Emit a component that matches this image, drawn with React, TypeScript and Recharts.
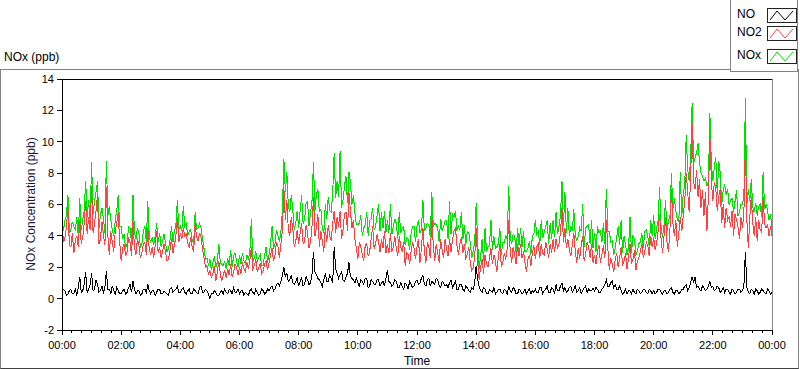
import { LineChart, Line, XAxis, YAxis, ReferenceLine } from "recharts";

// one reading every 3 minutes, 00:00 -> 24:00 (481 points), one row per hour
const STEP_MIN = 3;

const NOX = [
  5.4, 4.3, 5.0, 5.3, 6.6, 4.2, 4.4, 4.9, 4.6, 4.4, 5.2, 4.0, 6.4, 4.4, 5.0, 5.6, 7.5, 5.2, 6.3, 5.0,
  8.7, 5.4, 6.2, 6.8, 7.5, 4.5, 5.3, 5.8, 5.1, 4.2, 8.8, 5.3, 5.9, 5.0, 4.4, 4.0, 5.0, 5.6, 6.6, 4.6,
  4.6, 3.8, 4.1, 3.2, 3.5, 4.6, 4.5, 3.5, 6.6, 4.2, 3.8, 4.5, 4.2, 3.3, 3.5, 4.3, 4.6, 3.6, 6.2, 3.9,
  3.6, 3.9, 3.4, 4.0, 4.8, 3.6, 4.2, 3.3, 3.7, 4.1, 3.5, 3.0, 3.2, 3.7, 4.6, 3.6, 4.3, 4.7, 6.3, 4.4,
  4.6, 4.3, 5.9, 4.6, 4.8, 4.0, 4.3, 4.4, 3.7, 3.5, 5.5, 4.4, 4.5, 4.8, 4.5, 3.8, 3.2, 2.5, 2.6, 2.1,
  2.5, 1.8, 2.3, 2.7, 2.0, 2.3, 3.5, 2.3, 2.2, 2.1, 2.4, 1.9, 2.6, 2.1, 3.1, 2.0, 2.7, 2.9, 2.4, 2.0,
  2.8, 2.2, 2.9, 2.4, 2.2, 2.8, 2.5, 3.0, 5.1, 2.4, 2.6, 3.0, 2.4, 2.6, 2.8, 2.1, 2.1, 2.8, 3.3, 2.3,
  2.8, 3.5, 4.6, 3.2, 3.5, 4.4, 4.0, 3.6, 4.3, 5.6, 8.9, 6.8, 8.1, 5.9, 5.5, 6.6, 5.7, 4.4, 4.8, 5.6,
  4.5, 5.6, 6.6, 4.8, 5.0, 6.1, 6.2, 4.6, 5.5, 6.2, 8.7, 5.6, 6.6, 7.0, 5.5, 5.7, 4.4, 4.2, 6.0, 5.1,
  6.5, 5.6, 5.5, 6.7, 9.3, 6.4, 7.5, 6.5, 9.4, 5.8, 6.3, 7.2, 7.8, 6.1, 8.1, 7.4, 6.0, 6.6, 5.5, 4.7,
  4.7, 4.8, 5.3, 4.0, 4.5, 4.7, 5.5, 4.0, 5.0, 5.1, 5.8, 4.4, 4.6, 5.3, 6.0, 4.3, 5.5, 4.5, 5.6, 4.2,
  5.0, 4.2, 6.0, 4.1, 4.6, 5.1, 4.8, 3.8, 5.5, 4.2, 4.5, 4.6, 3.4, 3.9, 3.8, 3.1, 4.2, 4.6, 4.6, 3.6,
  4.6, 5.0, 4.2, 4.4, 6.3, 4.3, 4.5, 4.8, 4.7, 3.9, 6.8, 4.6, 4.8, 4.7, 4.5, 3.6, 5.1, 4.3, 4.6, 5.0,
  5.0, 3.8, 6.2, 4.1, 5.4, 5.2, 5.6, 4.4, 4.6, 4.4, 5.5, 3.8, 4.7, 3.4, 4.3, 4.2, 3.6, 2.6, 3.0, 3.6,
  6.1, 3.6, 1.9, 2.7, 3.8, 2.4, 4.5, 3.0, 3.3, 3.4, 5.0, 3.1, 4.0, 3.2, 3.3, 3.5, 4.5, 2.8, 3.6, 3.6,
  4.0, 3.8, 7.2, 3.9, 3.5, 4.1, 4.0, 2.9, 4.5, 3.4, 4.5, 3.3, 4.3, 3.0, 3.0, 3.2, 3.7, 2.8, 4.0, 4.1,
  5.0, 4.1, 4.3, 3.4, 5.0, 3.9, 4.2, 4.6, 5.0, 3.5, 4.8, 3.8, 5.0, 3.9, 5.5, 4.1, 4.6, 5.3, 7.5, 4.6,
  6.8, 4.2, 5.8, 4.0, 4.6, 4.3, 5.7, 4.0, 3.7, 4.0, 4.5, 4.3, 6.0, 3.3, 4.5, 4.6, 4.7, 3.5, 5.0, 3.2,
  4.2, 3.0, 4.6, 4.2, 4.3, 3.6, 4.8, 3.5, 7.0, 4.3, 4.3, 3.6, 3.7, 2.8, 3.2, 3.9, 4.6, 3.4, 5.0, 2.9,
  4.0, 3.4, 2.8, 3.2, 5.2, 2.9, 4.0, 3.8, 2.8, 3.0, 3.5, 3.6, 4.2, 3.2, 4.3, 4.4, 4.0, 3.3, 5.0, 4.0,
  5.3, 3.8, 4.5, 5.0, 7.1, 4.6, 3.9, 4.7, 6.3, 4.3, 5.0, 5.2, 8.0, 5.7, 6.4, 5.6, 5.0, 4.9, 8.1, 5.2,
  6.7, 7.2, 10.4, 8.2, 7.5, 9.0, 12.5, 8.6, 9.0, 9.3, 9.9, 8.7, 8.0, 7.8, 7.5, 7.7, 7.2, 7.4, 11.8, 8.6,
  7.5, 8.4, 9.0, 6.6, 8.8, 8.0, 6.0, 6.9, 7.3, 6.6, 7.0, 6.0, 6.3, 6.4, 5.5, 6.2, 6.9, 5.3, 5.5, 6.0,
  6.0, 6.5, 12.8, 6.0, 7.0, 6.2, 7.6, 5.8, 5.5, 6.1, 5.3, 5.9, 6.0, 5.2, 8.1, 5.7, 6.0, 5.6, 5.0, 5.4, 4.4,
];

const NO2 = [
  4.9, 3.6, 3.9, 4.6, 5.8, 3.4, 3.3, 4.2, 2.9, 3.7, 4.0, 3.3, 5.0, 3.5, 3.9, 4.8, 6.2, 4.1, 5.2, 4.4,
  7.2, 4.2, 4.8, 5.6, 6.6, 3.5, 3.8, 4.9, 4.1, 3.4, 7.1, 4.0, 2.8, 4.3, 3.6, 3.0, 4.3, 4.8, 5.5, 3.6,
  2.4, 3.2, 3.5, 2.7, 3.0, 3.9, 3.6, 2.7, 4.9, 3.3, 2.8, 3.8, 3.4, 2.6, 2.9, 3.5, 3.6, 2.8, 4.5, 3.1,
  2.8, 3.3, 2.6, 3.4, 4.3, 2.9, 3.3, 2.6, 3.0, 3.5, 3.0, 2.4, 2.5, 3.1, 3.8, 2.9, 3.4, 4.0, 5.2, 3.6,
  4.2, 3.8, 4.5, 4.0, 4.1, 3.5, 3.3, 3.9, 3.3, 3.0, 4.8, 3.9, 3.7, 4.2, 3.9, 3.2, 2.6, 2.0, 2.1, 1.5,
  1.8, 1.3, 1.6, 2.1, 1.1, 1.7, 2.4, 1.6, 1.1, 1.5, 1.8, 1.3, 1.9, 1.5, 2.2, 1.4, 1.7, 2.2, 2.0, 1.5,
  2.0, 1.6, 2.3, 1.9, 1.7, 2.3, 1.9, 2.4, 3.3, 1.9, 2.1, 2.5, 1.7, 2.0, 2.2, 1.6, 1.8, 2.2, 2.4, 1.8,
  2.3, 2.8, 3.2, 2.4, 2.8, 3.6, 3.3, 2.6, 3.5, 4.3, 7.1, 5.0, 6.3, 4.4, 4.0, 5.2, 4.5, 3.3, 3.6, 4.4,
  3.5, 4.2, 4.8, 3.5, 3.6, 4.7, 4.2, 3.2, 3.6, 4.6, 6.5, 4.0, 4.5, 5.4, 3.3, 4.3, 3.7, 3.0, 4.5, 3.6,
  4.7, 4.0, 3.7, 4.8, 5.6, 4.2, 5.2, 4.6, 5.6, 3.8, 4.4, 5.4, 5.5, 4.3, 6.8, 5.6, 4.5, 5.0, 3.8, 3.2,
  2.5, 3.6, 3.3, 2.8, 2.4, 3.4, 3.5, 2.7, 3.0, 3.8, 4.6, 3.2, 3.5, 4.1, 3.6, 3.0, 3.8, 3.2, 4.3, 2.9,
  3.5, 2.9, 4.2, 3.0, 3.3, 4.0, 3.2, 2.7, 4.0, 3.3, 3.0, 3.6, 2.1, 2.9, 2.8, 2.2, 3.0, 3.6, 3.2, 2.5,
  3.3, 3.8, 2.3, 3.2, 4.5, 3.0, 2.3, 3.6, 3.3, 2.6, 5.3, 3.4, 2.4, 3.5, 2.9, 2.3, 3.8, 3.1, 2.6, 3.8,
  3.2, 2.7, 3.8, 3.0, 3.7, 4.3, 4.5, 3.4, 2.8, 3.5, 3.9, 2.9, 3.5, 2.6, 2.8, 3.3, 2.3, 1.8, 2.0, 2.6,
  4.5, 2.4, 1.2, 2.0, 2.5, 1.6, 2.8, 2.2, 2.0, 2.6, 3.2, 2.2, 2.8, 2.4, 1.7, 2.7, 3.5, 2.0, 2.3, 2.9,
  2.5, 3.2, 5.0, 3.1, 2.3, 3.3, 2.8, 2.2, 3.5, 2.7, 3.5, 2.6, 3.0, 2.3, 1.7, 2.5, 2.8, 2.1, 2.9, 3.4,
  2.5, 3.3, 3.5, 2.6, 3.5, 2.9, 2.8, 3.6, 3.2, 2.6, 3.5, 2.9, 3.8, 3.0, 3.8, 3.2, 3.5, 4.2, 5.8, 3.6,
  4.5, 3.2, 3.8, 3.1, 2.7, 3.4, 4.2, 3.0, 2.3, 3.2, 2.5, 3.4, 4.0, 2.4, 2.8, 3.6, 3.3, 2.6, 3.5, 2.3,
  2.8, 2.2, 3.0, 3.4, 2.3, 2.8, 3.4, 2.6, 5.0, 3.2, 1.8, 2.6, 2.2, 1.7, 2.5, 2.9, 2.0, 2.6, 3.3, 2.1,
  2.4, 2.9, 1.9, 2.6, 3.5, 2.2, 2.5, 3.1, 1.8, 2.4, 2.6, 3.0, 3.5, 2.6, 3.0, 3.6, 3.4, 2.7, 4.0, 3.3,
  3.9, 3.1, 3.5, 4.3, 5.4, 3.8, 2.9, 4.0, 5.2, 3.6, 3.0, 4.4, 7.0, 4.8, 4.0, 5.0, 3.3, 4.2, 5.2, 4.3,
  5.3, 6.2, 8.0, 6.8, 5.5, 7.8, 11.2, 7.4, 7.0, 8.2, 6.5, 7.6, 5.8, 6.9, 5.3, 6.8, 4.3, 6.5, 10.4, 7.5,
  6.2, 7.4, 7.0, 5.6, 6.5, 7.0, 4.8, 6.0, 4.5, 5.8, 5.0, 5.2, 4.6, 5.6, 4.0, 5.4, 5.0, 4.6, 3.8, 5.2,
  4.5, 5.5, 9.9, 5.0, 3.2, 5.2, 6.5, 4.8, 4.0, 5.2, 3.7, 5.0, 4.4, 4.2, 6.5, 4.8, 4.5, 4.7, 4.0, 4.6, 4.0,
];

const NO = [
  0.4, 0.6, 0.5, 0.2, 0.3, 0.5, 0.6, 0.3, 0.3, 0.6, 0.2, 0.7, 1.4, 0.4, 0.5, 0.9, 1.7, 0.4, 0.6, 0.9,
  1.6, 0.5, 0.6, 1.2, 0.9, 0.4, 0.5, 0.8, 0.4, 0.7, 1.75, 0.6, 0.6, 0.3, 0.8, 0.5, 0.3, 0.7, 0.5, 0.3,
  0.3, 0.5, 0.6, 0.3, 0.4, 0.7, 0.9, 0.4, 1.1, 0.6, 0.3, 0.5, 0.5, 0.2, 0.3, 0.6, 0.6, 0.4, 0.9, 0.5,
  0.3, 0.5, 0.5, 0.2, 0.4, 0.6, 0.6, 0.3, 0.3, 0.5, 0.4, 0.3, 0.2, 0.6, 0.7, 0.4, 0.5, 0.6, 0.8, 0.4,
  0.4, 0.6, 0.7, 0.4, 0.3, 0.5, 0.6, 0.3, 0.3, 0.6, 0.5, 0.4, 0.3, 0.7, 0.8, 0.4, 0.4, 0.6, 0.5, 0.3,
  0.0, 0.3, 0.3, 0.5, 0.4, 0.2, 0.2, 0.4, 0.5, 0.3, 0.6, 0.4, 0.3, 0.6, 0.5, 0.3, 0.7, 0.4, 0.4, 0.6,
  0.3, 0.5, 0.5, 0.2, 0.4, 0.3, 0.2, 0.5, 0.6, 0.4, 0.3, 0.6, 0.4, 0.2, 0.3, 0.6, 0.5, 0.3, 0.4, 0.6,
  0.5, 0.7, 0.8, 0.5, 0.6, 0.9, 1.0, 0.8, 1.1, 1.5, 2.0, 1.4, 1.6, 1.1, 1.2, 1.5, 1.0, 0.9, 1.1, 1.3,
  0.8, 1.1, 1.3, 0.8, 0.9, 1.4, 1.2, 0.9, 1.0, 1.5, 3.0, 1.7, 1.5, 1.3, 1.2, 1.0, 0.8, 1.2, 1.6, 1.1,
  1.1, 1.5, 1.3, 1.0, 3.3, 1.9, 1.6, 1.3, 1.5, 1.7, 1.2, 1.1, 1.4, 1.6, 2.3, 1.4, 1.3, 1.2, 1.0, 1.3,
  1.0, 0.8, 1.2, 1.1, 0.9, 1.3, 1.3, 0.7, 0.8, 1.2, 1.1, 0.9, 0.9, 1.2, 1.2, 0.8, 1.0, 1.1, 0.8, 1.3,
  1.8, 1.1, 1.0, 0.8, 0.9, 1.2, 1.1, 0.7, 0.7, 1.0, 0.8, 0.6, 1.0, 0.9, 0.6, 1.1, 0.9, 0.7, 0.8, 1.1,
  1.2, 0.9, 1.0, 1.3, 1.5, 0.9, 0.8, 1.2, 1.3, 0.8, 1.1, 1.0, 0.9, 1.3, 1.2, 0.8, 0.7, 1.1, 1.0, 0.8,
  0.9, 0.7, 1.0, 1.2, 0.7, 0.9, 1.1, 0.6, 0.6, 0.9, 0.9, 0.6, 0.5, 0.8, 0.7, 0.5, 0.4, 0.7, 0.6, 1.0,
  2.1, 1.2, 0.8, 0.5, 0.4, 0.7, 0.6, 0.3, 0.3, 0.6, 0.5, 0.4, 0.7, 0.3, 0.4, 0.6, 0.6, 0.4, 0.3, 0.6,
  0.5, 0.3, 0.8, 0.5, 0.4, 0.7, 0.6, 0.3, 0.3, 0.6, 0.5, 0.3, 0.4, 0.6, 0.3, 0.5, 0.6, 0.3, 0.5, 0.4,
  0.6, 0.4, 0.4, 0.7, 0.7, 0.3, 0.5, 0.6, 0.8, 0.4, 0.4, 0.7, 0.6, 0.3, 0.9, 0.5, 0.5, 0.8, 1.0, 0.5,
  0.7, 0.4, 0.5, 0.7, 0.8, 0.4, 0.6, 0.8, 0.4, 0.5, 0.7, 0.3, 0.5, 0.7, 0.8, 0.4, 0.6, 0.5, 0.5, 0.7,
  0.5, 0.7, 0.6, 0.4, 0.4, 0.6, 0.7, 0.9, 1.2, 0.8, 0.8, 1.0, 1.1, 0.7, 0.9, 0.6, 0.6, 0.8, 0.5, 0.3,
  0.4, 0.6, 0.3, 0.5, 0.5, 0.3, 0.6, 0.4, 0.3, 0.6, 0.5, 0.3, 0.4, 0.6, 0.6, 0.4, 0.3, 0.6, 0.5, 0.3,
  0.5, 0.3, 0.4, 0.6, 0.6, 0.4, 0.3, 0.5, 0.5, 0.3, 0.4, 0.6, 0.7, 0.4, 0.3, 0.5, 0.5, 0.3, 0.4, 0.6,
  0.6, 0.8, 0.9, 0.5, 0.7, 1.0, 1.4, 1.0, 1.4, 0.7, 0.8, 0.6, 0.5, 0.8, 0.7, 0.5, 0.6, 0.8, 1.1, 0.7,
  0.8, 0.5, 0.6, 0.8, 0.7, 0.4, 0.5, 0.7, 0.4, 0.6, 0.6, 0.4, 0.3, 0.6, 0.5, 0.3, 0.4, 0.6, 0.6, 0.4,
  0.5, 0.8, 3.0, 0.7, 0.4, 0.3, 0.6, 0.5, 0.3, 0.6, 0.5, 0.3, 0.4, 0.6, 0.5, 0.4, 0.3, 0.6, 0.5, 0.3, 0.4,
];

const TIME_LABELS = [
  "00:00", "02:00", "04:00", "06:00", "08:00", "10:00", "12:00",
  "14:00", "16:00", "18:00", "20:00", "22:00", "00:00",
];
const Y_TICKS = [-2, 0, 2, 4, 6, 8, 10, 12, 14];

// minor tick every 20 min, label every 2 h
const X_TICKS = Array.from({ length: 73 }, (_, i) => i * 20);

const rows = NOX.map((v, i) => ({
  t: i * STEP_MIN,
  nox: v,
  no2: NO2[i],
  no: NO[i],
}));

const FONT = "'Liberation Sans', Arial, sans-serif";

function TimeTick(props: any) {
  const { x, y, payload } = props;
  const major = payload.value % 120 === 0;
  return (
    <g>
      <line x1={x} y1={y} x2={x} y2={y + (major ? 5 : 3)} stroke="#000" shapeRendering="crispEdges" />
      {major && (
        <text x={x} y={y + 19} textAnchor="middle" fontSize={11} fill="#000">
          {TIME_LABELS[payload.value / 120]}
        </text>
      )}
    </g>
  );
}

function Swatch({ color }: { color: string }) {
  return (
    <svg width={30} height={15} style={{ display: "block" }}>
      <rect x={0.5} y={0.5} width={29} height={14} fill="#fff" stroke="#222" />
      <polyline points="3,12 10,3 18,12 26,3" fill="none" stroke={color} strokeWidth={1} />
    </svg>
  );
}

const legendItems = [
  { name: "NO", color: "#000000", top: 8 },
  { name: "NO2", color: "#ff4040", top: 26 },
  { name: "NOx", color: "#00e000", top: 49 },
];

export default function App() {
  return (
    <div
      style={{
        position: "absolute",
        left: 0,
        top: 0,
        width: 800,
        height: 369,
        background: "#fff",
        fontFamily: FONT,
        overflow: "hidden",
      }}
    >
      {/* outer frame */}
      <div
        style={{
          position: "absolute",
          left: 0,
          top: 69,
          width: 797,
          height: 298,
          borderLeft: "1px solid #828282",
          borderTop: "1px solid #828282",
          borderRight: "1px solid #828282",
          borderBottom: "1px solid #404040",
        }}
      />
      <div style={{ position: "absolute", left: 4, top: 50, fontSize: 12, color: "#000" }}>
        NOx (ppb)
      </div>

      <div style={{ position: "absolute", left: 0, top: 0 }}>
        <LineChart
          width={800}
          height={369}
          data={rows}
          margin={{ top: 79, right: 28, bottom: 9, left: 22 }}
          style={{ fontFamily: FONT }}
        >
          <XAxis
            dataKey="t"
            type="number"
            domain={[0, 1440]}
            ticks={X_TICKS}
            interval={0}
            height={30}
            tickSize={0}
            tickMargin={0}
            tickLine={false}
            axisLine={{ stroke: "#000", shapeRendering: "crispEdges" }}
            tick={<TimeTick />}
          />
          <YAxis
            type="number"
            domain={[-2, 14]}
            ticks={Y_TICKS}
            interval={0}
            width={40}
            tickSize={5}
            tickMargin={3}
            axisLine={{ stroke: "#000", shapeRendering: "crispEdges" }}
            tickLine={{ stroke: "#000", shapeRendering: "crispEdges" }}
            tick={{ fill: "#000", fontSize: 11 }}
          />
          <ReferenceLine y={14} stroke="#000" shapeRendering="crispEdges" />
          <ReferenceLine x={1440} stroke="#888" shapeRendering="crispEdges" />
          <Line dataKey="nox" stroke="#00e000" strokeWidth={1} dot={false} isAnimationActive={false} shapeRendering="crispEdges" />
          <Line dataKey="no2" stroke="#ff4040" strokeWidth={1} dot={false} isAnimationActive={false} shapeRendering="crispEdges" />
          <Line dataKey="no" stroke="#000000" strokeWidth={1} dot={false} isAnimationActive={false} shapeRendering="crispEdges" />
        </LineChart>
      </div>

      {/* axis titles */}
      <div
        style={{
          position: "absolute",
          left: 31,
          top: 204,
          transform: "translate(-50%, -50%) rotate(-90deg)",
          whiteSpace: "nowrap",
          fontSize: 12,
          color: "#1a1a40",
        }}
      >
        NOx Concentration (ppb)
      </div>
      <div
        style={{
          position: "absolute",
          left: 417,
          top: 354,
          transform: "translateX(-50%)",
          fontSize: 12,
          color: "#000",
        }}
      >
        Time
      </div>

      {/* legend */}
      <div
        style={{
          position: "absolute",
          left: 730,
          top: -1,
          width: 68,
          height: 73,
          background: "#fff",
          border: "1px solid #828282",
          boxSizing: "border-box",
        }}
      >
        {legendItems.map((it) => (
          <div key={it.name}>
            <div style={{ position: "absolute", left: 6, top: it.top - 1, fontSize: 12 }}>{it.name}</div>
            <div style={{ position: "absolute", left: 36, top: it.top }}>
              <Swatch color={it.color} />
            </div>
          </div>
        ))}
      </div>
    </div>
  );
}
